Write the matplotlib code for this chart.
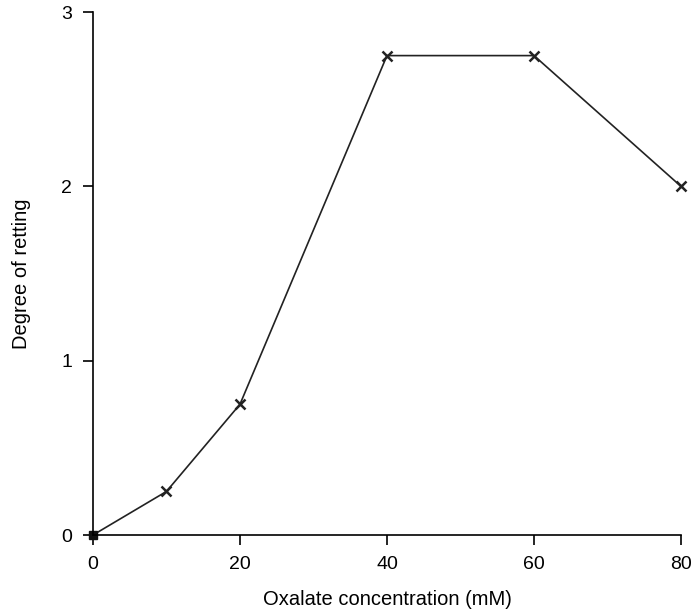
import matplotlib
matplotlib.use("Agg")
import matplotlib.pyplot as plt

plt.rcParams['font.family'] = ['Liberation Sans', 'DejaVu Sans']

# data
oxalate = [0, 10, 20, 40, 60, 80]
retting = [0, 0.25, 0.75, 2.75, 2.75, 2.0]
xticks = [0, 20, 40, 60, 80]
yticks = [0, 1, 2, 3]

fig = plt.figure(figsize=(6.97, 6.13), dpi=100)
ax = fig.add_axes([0.1334, 0.1272, 0.8436, 0.8532])

ax.plot(oxalate, retting, color='#222222', lw=1.2, marker='x', ms=7, mew=1.8,
        markevery=list(range(1, len(oxalate))), clip_on=False)
# filled square at the origin
ax.plot(oxalate[:1], retting[:1], 's', color='#111111', ms=6, clip_on=False)

ax.set_xlim(0, 80)
ax.set_ylim(0, 3)
ax.set_xticks(xticks)
ax.set_yticks(yticks)
ax.spines['top'].set_visible(False)
ax.spines['right'].set_visible(False)
for s in ['left', 'bottom']:
    ax.spines[s].set_linewidth(1.2)
ax.tick_params(direction='out', length=7, width=1.2, labelsize=14, pad=8)

ax.set_xlabel('Oxalate concentration (mM)', fontsize=14.5, labelpad=12)
ax.set_ylabel('Degree of retting', fontsize=14.5, labelpad=22)

fig.savefig('out.png', dpi=100)
